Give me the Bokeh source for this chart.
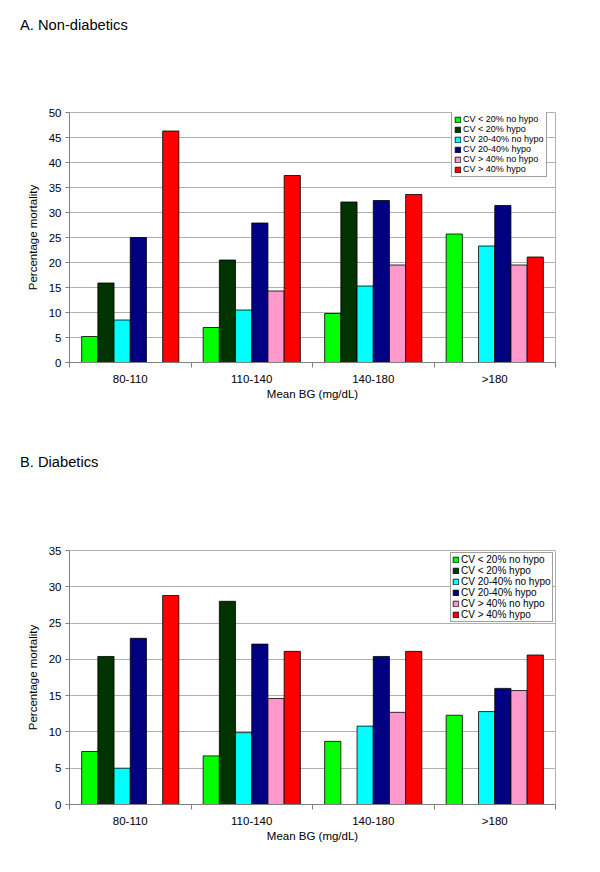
from bokeh.plotting import figure
from bokeh.layouts import column
from bokeh.models import (Range1d, FixedTicker, Legend, LegendItem,
                          ColumnDataSource, Div)
from bokeh.embed import file_html
from bokeh.resources import INLINE

nan = float("nan")

categories = ["80-110", "110-140", "140-180", ">180"]
series_names = ["CV < 20% no hypo", "CV < 20% hypo", "CV 20-40% no hypo",
                "CV 20-40% hypo", "CV > 40% no hypo", "CV > 40% hypo"]
series_colors = ["#00FF00", "#003300", "#00FFFF", "#000080", "#FF99CC", "#FF0000"]

# A. Non-diabetics: one list per series, values per category
nd_cv20_nohypo = [5.2, 7.0, 9.8, 25.7]
nd_cv20_hypo = [15.9, 20.5, 32.1, nan]
nd_cv2040_nohypo = [8.5, 10.5, 15.3, 23.3]
nd_cv2040_hypo = [25.0, 27.9, 32.4, 31.4]
nd_cv40_nohypo = [nan, 14.3, 19.5, 19.5]
nd_cv40_hypo = [46.3, 37.4, 33.6, 21.1]

# B. Diabetics
d_cv20_nohypo = [7.3, 6.7, 8.7, 12.3]
d_cv20_hypo = [20.4, 28.0, nan, nan]
d_cv2040_nohypo = [5.0, 9.9, 10.8, 12.8]
d_cv2040_hypo = [22.9, 22.1, 20.4, 16.0]
d_cv40_nohypo = [nan, 14.6, 12.7, 15.7]
d_cv40_hypo = [28.8, 21.1, 21.1, 20.6]

ticks_A = [0, 5, 10, 15, 20, 25, 30, 35, 40, 45, 50]
ticks_B = [0, 5, 10, 15, 20, 25, 30, 35]

FONT = "Liberation Sans"
GRID = "#b0b0b0"
AXIS = "#808080"
BAR_W = 1.0 / 7.5


def make_title(text, pad_top):
    html = ('<div style="padding:%dpx 0 0 20px; font-family:\'Liberation Sans\';'
            ' font-size:14.7px; line-height:16px; color:#000;">%s</div>'
            % (pad_top, text))
    return Div(text=html, width=600, height=50, margin=0)


def make_chart(series, ymax, yticks, height, borders, legend_font,
               legend_loc, legend_padding):
    top, right, bottom, left = borders
    p = figure(width=600, height=height, output_backend="svg",
               toolbar_location=None, x_range=Range1d(0, 4),
               y_range=Range1d(0, ymax), min_border_top=top,
               min_border_right=right, min_border_bottom=bottom,
               min_border_left=left)
    p.background_fill_color = "white"
    p.outline_line_color = GRID
    p.outline_line_width = 1

    items = []
    for j, (vals, name, col) in enumerate(zip(series, series_names, series_colors)):
        xs = [i + 0.5 + (j - 2.5) * BAR_W for i in range(len(categories))]
        src = ColumnDataSource(dict(x=xs, top=vals))
        r = p.vbar(x="x", top="top", bottom=0, width=BAR_W, source=src,
                   fill_color=col, line_color="#000000", line_width=0.8)
        items.append(LegendItem(label=name, renderers=[r]))

    # x axis
    p.xaxis.ticker = FixedTicker(ticks=[0.5, 1.5, 2.5, 3.5],
                                 minor_ticks=[0, 1, 2, 3, 4])
    p.xaxis.major_label_overrides = {i + 0.5: c for i, c in enumerate(categories)}
    p.xaxis.major_tick_out = 0
    p.xaxis.major_tick_in = 0
    p.xaxis.minor_tick_out = 5
    p.xaxis.minor_tick_in = 0
    p.xaxis.minor_tick_line_color = AXIS
    p.xaxis.axis_line_color = AXIS
    p.xaxis.axis_label = "Mean BG (mg/dL)"
    p.xaxis.major_label_standoff = 5
    p.xaxis.axis_label_standoff = 0
    p.xgrid.visible = False

    # y axis
    p.yaxis.ticker = FixedTicker(ticks=yticks)
    p.yaxis.minor_tick_line_color = None
    p.yaxis.major_tick_out = 4
    p.yaxis.major_tick_in = 0
    p.yaxis.major_tick_line_color = AXIS
    p.yaxis.axis_line_color = AXIS
    p.yaxis.axis_label = "Percentage mortality"
    p.yaxis.major_label_standoff = 4
    p.yaxis.axis_label_standoff = 7
    p.ygrid.grid_line_color = GRID
    p.ygrid.ticker = FixedTicker(ticks=yticks)

    for ax in (p.xaxis[0], p.yaxis[0]):
        ax.major_label_text_font = FONT
        ax.major_label_text_font_size = "11.5px"
        ax.major_label_text_color = "#000000"
        ax.axis_label_text_font = FONT
        ax.axis_label_text_font_size = "11.5px"
        ax.axis_label_text_font_style = "normal"
        ax.axis_label_text_color = "#000000"

    legend = Legend(items=items, location=legend_loc)
    legend.label_text_font = FONT
    legend.label_text_font_size = legend_font
    legend.label_text_color = "#000000"
    legend.label_height = 8
    legend.glyph_height = 7
    legend.glyph_width = 7
    legend.label_standoff = 2
    legend.spacing = 0
    legend.padding = legend_padding
    legend.margin = 0
    legend.border_line_color = "#404040"
    legend.border_line_width = 1
    legend.background_fill_color = "white"
    legend.background_fill_alpha = 1.0
    p.add_layout(legend, "center")
    return p


tA = make_title("A. Non-diabetics", 17)
pA = make_chart([nd_cv20_nohypo, nd_cv20_hypo, nd_cv2040_nohypo,
                 nd_cv2040_hypo, nd_cv40_nohypo, nd_cv40_hypo],
                50, ticks_A, 386, (62, 45, 74, 67), "9px", (382, 185), 2)
tB = make_title("B. Diabetics", 18)
pB = make_chart([d_cv20_nohypo, d_cv20_hypo, d_cv2040_nohypo,
                 d_cv2040_hypo, d_cv40_nohypo, d_cv40_hypo],
                35, ticks_B, 386, (64, 37, 68, 69), "10px", (381, 182), 1)

layout = column(tA, pA, tB, pB, spacing=0)
open("out.html", "w").write(file_html(layout, INLINE))
